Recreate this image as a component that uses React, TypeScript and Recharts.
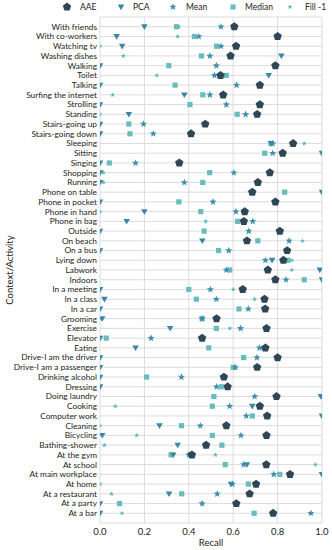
import React from 'react';
import { ScatterChart, Scatter, XAxis, YAxis, CartesianGrid } from 'recharts';

const categories = [
  'With friends', 'With co-workers', 'Watching tv', 'Washing dishes', 'Walking', 'Toilet', 'Talking',
  'Surfing the internet', 'Strolling', 'Standing', 'Stairs-going up', 'Stairs-going down', 'Sleeping',
  'Sitting', 'Singing', 'Shopping', 'Running', 'Phone on table', 'Phone in pocket', 'Phone in hand',
  'Phone in bag', 'Outside', 'On beach', 'On a bus', 'Lying down', 'Labwork', 'Indoors', 'In a meeting',
  'In a class', 'In a car', 'Grooming', 'Exercise', 'Elevator', 'Eating', 'Drive-I am the driver',
  'Drive-I am a passenger', 'Drinking alcohol', 'Dressing', 'Doing laundry', 'Cooking', 'Computer work',
  'Cleaning', 'Bicycling', 'Bathing-shower', 'At the gym', 'At school', 'At main workplace', 'At home',
  'At a restaurant', 'At a party', 'At a bar',
];

const aae = [0.605, 0.80, 0.613, 0.588, 0.79, 0.543, 0.72, 0.555, 0.72, 0.708, 0.474, 0.41, 0.87, 0.823, 0.357, 0.765, 0.711, 0.686, 0.79, 0.652, 0.648, 0.81, 0.662, 0.843, 0.826, 0.756, 0.79, 0.643, 0.741, 0.744, 0.525, 0.75, 0.46, 0.745, 0.80, 0.708, 0.558, 0.575, 0.795, 0.72, 0.753, 0.569, 0.75, 0.478, 0.414, 0.749, 0.856, 0.703, 0.674, 0.614, 0.78];
const pca = [0.20, 0.075, 0.10, 0.817, 0, 0.76, 0, 0.38, 0, 0.13, 0, 0, 0.77, 1.0, 0, 0, 0, 1.0, 0, 0.2, 0.12, 0, 0.461, 0, 0.775, 0.99, 1.0, 0, 0.02, 0, 0.01, 0.316, 0, 0.16, 0, 0, 0, 0, 0.995, 0.686, 1.0, 0.268, 0.01, 0.35, 0.33, 0.662, 1.0, 0.59, 0.311, 0, 0];
const meanVals = [0.545, 0.445, 0.545, 0.495, 0.524, 0.516, 0.615, 0.495, 0.569, 0.656, 0.196, 0.24, 0.778, 0.778, 0.16, 0.603, 0.38, 0.68, 0.509, 0.612, 0.688, 0.67, 0.852, 0.58, 0.745, 0.569, 0.838, 0.497, 0.524, 0.668, 0.46, 0.633, 0.23, 0.718, 0.707, 0.61, 0.367, 0.525, 0.697, 0.584, 0.659, 0.452, 0.635, 0.48, 0.40, 0.647, 0.783, 0.596, 0.528, 0.46, 0.95];
const median = [0.345, 0.425, 0.525, 0.457, 0.31, 0.569, 0.338, 0.463, 0.405, 0.618, 0.13, 0.135, 0.77, 0.742, 0.042, 0.494, 0.463, 0.832, 0.355, 0.454, 0.62, 0.469, 0.711, 0.534, 0.847, 0.584, 0.92, 0.40, 0.434, 0.626, 0.46, 0.524, 0.028, 0.49, 0.647, 0.60, 0.21, 0.546, 0.513, 0.506, 0.686, 0.367, 0.506, 0.549, 0.32, 0.564, 0.81, 0.668, 0.368, 0.088, 0.694];
const fillNeg = [0.355, 0.35, 0, 0.105, 0, 0.256, 0, 0.057, 0, 0, 0, 0, 0.92, 1.0, 0, 0.015, 0.015, 1.0, 0, 0, 0.476, 0, 0.912, 0, 0.865, 0.864, 1.0, 0.60, 0.696, 0, 0, 0.585, 0, 0.73, 0, 0, 0, 0, 1.0, 0.069, 1.0, 0, 0.165, 0.02, 0.52, 0.97, 1.0, 0, 0.052, 0, 0.099];

const xTicks = [0, 0.2, 0.4, 0.6, 0.8, 1.0];
const yTicks = Array.from({ length: categories.length + 2 }, (_, i) => i - 1);

const COLORS = {
  aae: '#2e4756',
  pca: '#3b88a6',
  mean: '#3f8fae',
  median: '#68bcbb',
  fill: '#5cb9bd',
};

const FONT = 'Lato, "Open Sans", sans-serif';
const CLIP = 'url(#plot-clip)';

function starPts(cx: number, cy: number, outer: number, inner: number, n: number) {
  const pts: string[] = [];
  for (let i = 0; i < n * 2; i++) {
    const r = i % 2 === 0 ? outer : inner;
    const a = (-90 + (i * 180) / n) * (Math.PI / 180);
    pts.push(`${cx + r * Math.cos(a)},${cy + r * Math.sin(a)}`);
  }
  return pts.join(' ');
}
function polyPts(cx: number, cy: number, r: number, n: number) {
  const pts: string[] = [];
  for (let i = 0; i < n; i++) {
    const a = (-90 + (i * 360) / n) * (Math.PI / 180);
    pts.push(`${cx + r * Math.cos(a)},${cy + r * Math.sin(a)}`);
  }
  return pts.join(' ');
}

const Pentagon = (p: any) => <polygon points={polyPts(p.cx, p.cy, 4.4, 5)} fill={COLORS.aae} clipPath={p.noClip ? undefined : CLIP} />;
const TriDown = (p: any) => (
  <polygon
    points={`${p.cx - 3.3},${p.cy - 2.4} ${p.cx + 3.3},${p.cy - 2.4} ${p.cx},${p.cy + 3.2}`}
    fill={COLORS.pca}
    clipPath={p.noClip ? undefined : CLIP}
  />
);
const Star = (p: any) => <polygon points={starPts(p.cx, p.cy, 3.8, 1.6, 5)} fill={COLORS.mean} clipPath={p.noClip ? undefined : CLIP} />;
const Square = (p: any) => (
  <rect x={p.cx - 2.6} y={p.cy - 2.6} width={5.2} height={5.2} fill={COLORS.median} clipPath={p.noClip ? undefined : CLIP} />
);
const SmallStar = (p: any) => <polygon points={starPts(p.cx, p.cy, 2.6, 1.1, 5)} fill={COLORS.fill} clipPath={p.noClip ? undefined : CLIP} />;

const toData = (vals: number[]) => vals.map((v, i) => ({ x: v, y: i }));

const legendItems = [
  { label: 'AAE', mx: 67, tx: 80, shape: 'pent' },
  { label: 'PCA', mx: 121, tx: 133, shape: 'tri' },
  { label: 'Mean', mx: 173, tx: 186, shape: 'star' },
  { label: 'Median', mx: 233, tx: 245, shape: 'sq' },
  { label: 'Fill -1', mx: 290, tx: 305, shape: 'small' },
];

function LegendMarker({ shape, cx, cy }: { shape: string; cx: number; cy: number }) {
  if (shape === 'pent') return <Pentagon cx={cx} cy={cy} noClip />;
  if (shape === 'tri') return <TriDown cx={cx} cy={cy} noClip />;
  if (shape === 'star') return <Star cx={cx} cy={cy} noClip />;
  if (shape === 'sq') return <Square cx={cx} cy={cy} noClip />;
  return <SmallStar cx={cx} cy={cy} noClip />;
}

const YTick = (props: any) => {
  const { y, payload } = props;
  const label = categories[payload.value] ?? '';
  if (!label) return null;
  return (
    <text x={97} y={y} dy="0.35em" textAnchor="end" fontSize={8.3} fill="#222" fontFamily={FONT}>
      {label}
    </text>
  );
};

const XTick = (props: any) => {
  const { x, payload } = props;
  return (
    <text x={x} y={535} textAnchor="middle" fontSize={9.5} fill="#222" fontFamily={FONT}>
      {Number(payload.value).toFixed(1)}
    </text>
  );
};

const YLabel = (props: any) => {
  const vb = props.viewBox || { x: 0, y: 17, width: 100, height: 506 };
  const cy = vb.y + vb.height / 2;
  return (
    <text x={13} y={cy} transform={`rotate(-90, 13, ${cy})`} textAnchor="middle" fontSize={9.5} fill="#222" fontFamily={FONT}>
      Context/Activity
    </text>
  );
};

const XLabel = () => (
  <text x={211} y={546} textAnchor="middle" fontSize={9.5} fill="#222" fontFamily={FONT}>
    Recall
  </text>
);

export default function App() {
  return (
    <div style={{ position: 'absolute', left: 0, top: 0, width: 332, height: 550, overflow: 'hidden', background: '#fff' }}>
      <svg width={0} height={0} style={{ position: 'absolute' }}>
        <defs>
          <clipPath id="plot-clip" clipPathUnits="userSpaceOnUse">
            <rect x={100} y={17} width={222} height={506} />
          </clipPath>
        </defs>
      </svg>
      <ScatterChart width={332} height={550} margin={{ top: 17, right: 10, bottom: 0, left: 0 }}>
        <CartesianGrid stroke="#dcdcdc" strokeWidth={1} />
        <XAxis
          type="number"
          dataKey="x"
          domain={[0, 1]}
          ticks={xTicks}
          axisLine={false}
          tickLine={false}
          tickSize={0}
          height={27}
          interval={0}
          tick={<XTick />}
          label={<XLabel />}
        />
        <YAxis
          type="number"
          dataKey="y"
          domain={[-1, categories.length]}
          reversed
          ticks={yTicks}
          interval={0}
          axisLine={false}
          tickLine={false}
          tickSize={0}
          width={100}
          tick={<YTick />}
          label={<YLabel />}
        />
        <Scatter name="Fill -1" data={toData(fillNeg)} shape={SmallStar} isAnimationActive={false} />
        <Scatter name="Median" data={toData(median)} shape={Square} isAnimationActive={false} />
        <Scatter name="Mean" data={toData(meanVals)} shape={Star} isAnimationActive={false} />
        <Scatter name="PCA" data={toData(pca)} shape={TriDown} isAnimationActive={false} />
        <Scatter name="AAE" data={toData(aae)} shape={Pentagon} isAnimationActive={false} />
      </ScatterChart>
      <svg width={332} height={16} style={{ position: 'absolute', left: 0, top: 0 }}>
        {legendItems.map((it) => (
          <g key={it.label}>
            <LegendMarker shape={it.shape} cx={it.mx} cy={7} />
            <text x={it.tx} y={10} fontSize={8.5} fill="#222" fontFamily={FONT}>
              {it.label}
            </text>
          </g>
        ))}
      </svg>
    </div>
  );
}
